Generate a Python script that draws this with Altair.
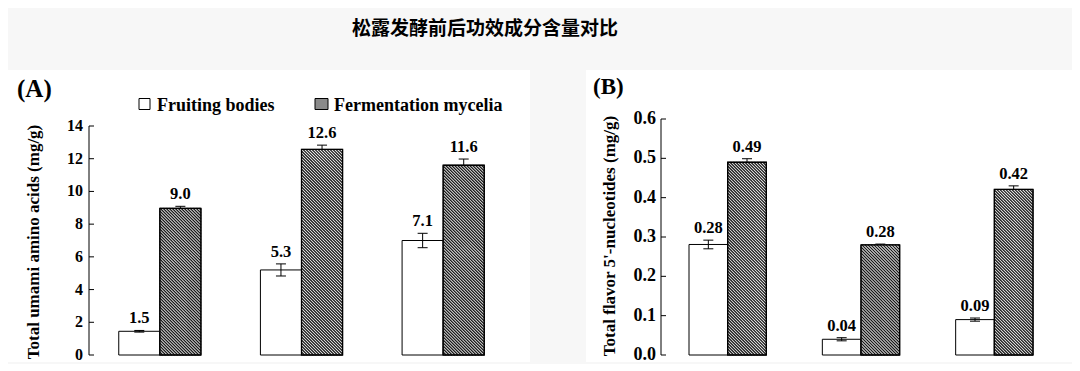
import altair as alt
import pandas as pd

# ---------------- data ----------------
groups = [0, 1, 2]
series = ["Fruiting bodies", "Fermentation mycelia"]

a_fruit = [1.45, 5.2, 7.0]
a_fruit_err = [0.05, 0.37, 0.44]
a_fruit_lbl = ["1.5", "5.3", "7.1"]
a_ferm = [8.97, 12.57, 11.6]
a_ferm_err = [0.12, 0.26, 0.38]
a_ferm_lbl = ["9.0", "12.6", "11.6"]

b_fruit = [0.281, 0.04, 0.09]
b_fruit_err = [0.011, 0.004, 0.004]
b_fruit_lbl = ["0.28", "0.04", "0.09"]
b_ferm = [0.49, 0.28, 0.421]
b_ferm_err = [0.009, 0.002, 0.009]
b_ferm_lbl = ["0.49", "0.28", "0.42"]

a_ticks = [0, 2, 4, 6, 8, 10, 12, 14]
b_ticks = [0.0, 0.1, 0.2, 0.3, 0.4, 0.5, 0.6]

main_title = "松露发酵前后功效成分含量对比"
a_ytitle = "Total umami amino acids (mg/g)"
b_ytitle = "Total flavor 5'-nucleotides (mg/g)"
a_tag = "(A)"
b_tag = "(B)"

# ---------------- styling ----------------
SERIF = "Liberation Serif"
BW = 0.29          # bar width in group units
HATCH_GAP = 3.0    # px between hatch lines
HATCH_COLOR = "#1a1a1a"


def build_panel(fruit, fruit_err, fruit_lbl, ferm, ferm_err, ferm_lbl,
                ticks, tick_fmt, ytitle, tag, width, height, axis_px,
                label_size, label_pad, title_x, title_y, tag_x, tag_y, tag_size,
                bg_x, bg_x2, legend):
    ytop = ticks[-1]
    ymax = ytop * height / axis_px
    kx = width / 3.0
    ky = axis_px / ytop
    W = BW * kx
    capw = 5.0 / kx

    rows = []
    for i, g in enumerate(groups):
        rows.append(dict(g=g, s=series[0], x0=g - BW, x1=g, xc=g - BW / 2,
                         v=fruit[i], e=fruit_err[i], lbl=fruit_lbl[i]))
        rows.append(dict(g=g, s=series[1], x0=g, x1=g + BW, xc=g + BW / 2,
                         v=ferm[i], e=ferm_err[i], lbl=ferm_lbl[i]))
    df = pd.DataFrame(rows)
    df["lo"] = df["v"] - df["e"]
    df["hi"] = df["v"] + df["e"]
    df["cl"] = df["xc"] - capw
    df["cr"] = df["xc"] + capw

    one = pd.DataFrame({"z": [0.0], "t": [float(ytop)]})
    tick_df = pd.DataFrame({"tv": ticks})
    xs = alt.Scale(domain=[-0.5, 2.5], nice=False, zero=False)
    ys = alt.Scale(domain=[0, ymax], nice=False, zero=True)

    bg = alt.Chart(one).mark_rect(fill="white").encode(
        x=alt.value(bg_x), x2=alt.value(bg_x2),
        y=alt.value(-48), y2=alt.value(244))

    fruit_bars = alt.Chart(df).transform_filter(
        alt.datum.s == series[0]
    ).transform_calculate(z="0").mark_rect(fill="white", stroke="black", strokeWidth=1).encode(
        x=alt.X("x0:Q", scale=xs,
                axis=alt.Axis(values=[-0.5, 0.5, 1.5, 2.5], labels=False,
                              ticks=True, tickSize=4, tickColor="black",
                              domain=True, domainColor="black", domainWidth=1,
                              grid=False, title=None, zindex=1)),
        x2="x1:Q",
        y=alt.Y("v:Q", scale=ys, axis=None),
        y2=alt.Y2("z:Q"),
    )

    err = alt.Chart(df).mark_rule(color="black", strokeWidth=1).encode(
        x=alt.X("xc:Q", scale=xs, axis=None),
        y=alt.Y("lo:Q", scale=ys, axis=None), y2="hi:Q")
    cap_top = alt.Chart(df).mark_rule(color="black", strokeWidth=1).encode(
        x=alt.X("cl:Q", scale=xs, axis=None), x2="cr:Q",
        y=alt.Y("hi:Q", scale=ys, axis=None))
    cap_bot = alt.Chart(df).mark_rule(color="black", strokeWidth=1).encode(
        x=alt.X("cl:Q", scale=xs, axis=None), x2="cr:Q",
        y=alt.Y("lo:Q", scale=ys, axis=None))

    ferm_bars = alt.Chart(df).transform_filter(
        alt.datum.s == series[1]
    ).transform_calculate(z="0").mark_rect(fill="white", stroke="black", strokeWidth=1).encode(
        x=alt.X("x0:Q", scale=xs, axis=None), x2="x1:Q",
        y=alt.Y("v:Q", scale=ys, axis=None), y2="z:Q")

    hatch = alt.Chart(df).transform_filter(
        alt.datum.s == series[1]
    ).transform_calculate(
        k="sequence(1, 160)"
    ).transform_flatten(["k"]).transform_calculate(
        c=f"datum.k * {HATCH_GAP}",
        H=f"datum.v * {ky}",
    ).transform_filter(
        f"datum.c < {W} + datum.H"
    ).transform_calculate(
        u1="max(0, datum.c - datum.H)",
        u2=f"min({W}, datum.c)",
    ).transform_calculate(
        hx1=f"datum.x0 + datum.u1 / {kx}",
        hy1=f"(datum.c - datum.u1) / {ky}",
        hx2=f"datum.x0 + datum.u2 / {kx}",
        hy2=f"(datum.c - datum.u2) / {ky}",
    ).mark_rule(color=HATCH_COLOR, strokeWidth=1.3).encode(
        x=alt.X("hx1:Q", scale=xs, axis=None), x2="hx2:Q",
        y=alt.Y("hy1:Q", scale=ys, axis=None), y2="hy2:Q")

    ferm_outline = alt.Chart(df).transform_filter(
        alt.datum.s == series[1]
    ).transform_calculate(z="0").mark_rect(fillOpacity=0, stroke="black", strokeWidth=1.3).encode(
        x=alt.X("x0:Q", scale=xs, axis=None), x2="x1:Q",
        y=alt.Y("v:Q", scale=ys, axis=None), y2="z:Q")

    labels = alt.Chart(df).mark_text(
        font=SERIF, fontWeight="bold", fontSize=16.5, dy=-7,
        baseline="alphabetic", align="center", color="black"
    ).encode(x=alt.X("xc:Q", scale=xs, axis=None),
             y=alt.Y("hi:Q", scale=ys, axis=None), text="lbl:N")

    yline = alt.Chart(one).mark_rule(color="black", strokeWidth=1).encode(
        x=alt.value(0), y=alt.Y("z:Q", scale=ys, axis=None), y2="t:Q")
    inticks = alt.Chart(tick_df).mark_rule(
        color="black", strokeWidth=1
    ).encode(x=alt.value(0), x2=alt.value(5),
             y=alt.Y("tv:Q", scale=ys, axis=None))
    ticklabels = alt.Chart(tick_df).transform_calculate(
        lab=f"format(datum.tv, '{tick_fmt}')"
    ).mark_text(
        font=SERIF, fontWeight="bold", fontSize=label_size, align="right",
        baseline="middle", color="black"
    ).encode(x=alt.value(-label_pad), y=alt.Y("tv:Q", scale=ys, axis=None),
             text="lab:N")
    ytitle_txt = alt.Chart(one).mark_text(
        text=ytitle, font=SERIF, fontWeight="bold", fontSize=17, angle=270,
        align="center", baseline="middle", color="black"
    ).encode(x=alt.value(title_x), y=alt.value(title_y))

    tag_txt = alt.Chart(one).mark_text(
        text=tag, font=SERIF, fontWeight="bold", fontSize=tag_size,
        align="left", baseline="alphabetic", color="black"
    ).encode(x=alt.value(tag_x), y=alt.value(tag_y))

    layers = [bg, fruit_bars, err, cap_top, cap_bot, ferm_bars, hatch,
              ferm_outline, labels, yline, inticks, ticklabels, ytitle_txt, tag_txt]

    if legend:
        sq1 = alt.Chart(one).mark_rect(fill="white", stroke="black", strokeWidth=1).encode(
            x=alt.value(50), x2=alt.value(61), y=alt.value(-19.5), y2=alt.value(-8.5))
        sq2 = alt.Chart(one).mark_rect(fill="#8a8a8a", stroke="black", strokeWidth=1).encode(
            x=alt.value(226), x2=alt.value(239), y=alt.value(-19.5), y2=alt.value(-8.5))
        t1 = alt.Chart(one).mark_text(
            text=series[0], font=SERIF, fontWeight="bold", fontSize=18,
            align="left", baseline="alphabetic", color="black"
        ).encode(x=alt.value(68), y=alt.value(-7.5))
        t2 = alt.Chart(one).mark_text(
            text=series[1], font=SERIF, fontWeight="bold", fontSize=18,
            align="left", baseline="alphabetic", color="black"
        ).encode(x=alt.value(245), y=alt.value(-7.5))
        layers += [sq1, sq2, t1, t2]

    return alt.layer(*layers).properties(width=width, height=height)


panel_a = build_panel(a_fruit, a_fruit_err, a_fruit_lbl, a_ferm, a_ferm_err, a_ferm_lbl,
                      a_ticks, "d", a_ytitle, a_tag, width=425, height=237, axis_px=229,
                      label_size=16, label_pad=6, title_x=-55, title_y=124,
                      tag_x=-72, tag_y=-21, tag_size=25, bg_x=-81, bg_x2=441,
                      legend=True)
panel_b = build_panel(b_fruit, b_fruit_err, b_fruit_lbl, b_ferm, b_ferm_err, b_ferm_lbl,
                      b_ticks, ".1f", b_ytitle, b_tag, width=400, height=237, axis_px=236,
                      label_size=18, label_pad=5, title_x=-51, title_y=118,
                      tag_x=-68, tag_y=-24, tag_size=23, bg_x=-75, bg_x2=411,
                      legend=False)

chart = alt.hconcat(panel_a, panel_b, spacing=56).properties(
    title=alt.TitleParams(main_title, font="Noto Sans CJK SC", fontSize=19,
                          fontWeight="bold", anchor="middle", dx=-55, offset=31,
                          color="black"),
    padding={"left": 0, "top": 12, "right": 0, "bottom": 0},
    background="#f7f7f7",
).configure_view(stroke=None).configure_axis(
    labelFont=SERIF, labelFontWeight="bold", labelColor="black",
    titleFont=SERIF, titleFontWeight="bold", titleColor="black", titleFontSize=17,
)

chart.save("out.html", embed_options={"renderer": "svg", "actions": False})
